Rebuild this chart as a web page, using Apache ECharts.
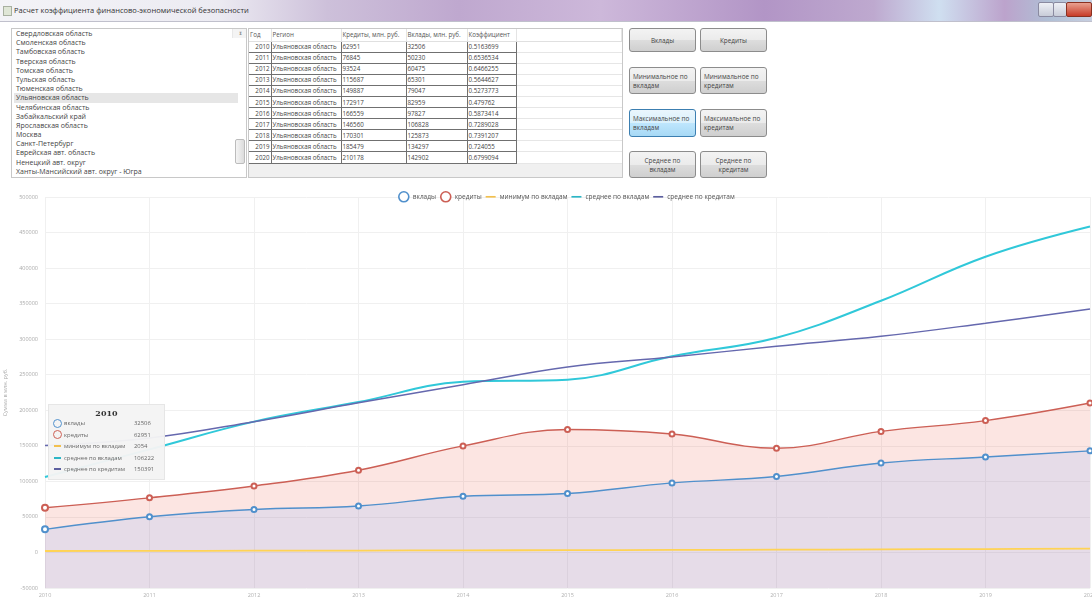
<!DOCTYPE html>
<html>
<head>
<meta charset="utf-8">
<script src="https://cdn.jsdelivr.net/npm/echarts@6/dist/echarts.min.js"></script>
<style>
body{margin:0;width:1092px;height:597px;overflow:hidden;background:#fff;position:relative;font-family:"Open Sans","Noto Sans",sans-serif;color:#333}
.titlebar{position:absolute;left:0;top:0;width:1092px;height:21px;
 background:linear-gradient(90deg,#f3f3f7 0%,#ecebf2 20%,#cdc0da 30%,#bfa8cf 42%,#cdb8da 55%,#b295c6 70%,#bea9cf 80%,#cfdff0 86%,#bca3cc 92%,#b0bfd5 96%,#c7cfe0 100%);
 border-bottom:1px solid #c0c0cc}
.titlebar .ico{position:absolute;left:3px;top:6px;width:7px;height:8px;background:#dfe6d6;border:1px solid #a8b0a0}
.titlebar .txt{position:absolute;left:14px;top:5px;font-size:7.5px;color:#333}
.winbtn{position:absolute;top:2px;height:13px;border:1px solid #8a8aa0;border-radius:2px;background:linear-gradient(#eef0f6,#c8ccd8)}
.winbtn.close{background:linear-gradient(#e8a090,#c83c28);border-color:#8a3020}
.list{position:absolute;left:11px;top:28px;width:236px;height:150px;border:1px solid #c8c8c8;box-sizing:border-box;background:#fff;overflow:hidden}
.list div{font-size:7px;line-height:9.2px;height:9.2px;padding-left:2px;white-space:nowrap;color:#444}
.list .sel{background:#e6e6e6}
.list .items{position:absolute;left:0;top:0;width:224px}
.sb{position:absolute;right:0;top:0;width:11px;height:148px;background:#f4f4f4;border-left:1px solid #e8e8e8}
.sb .ar{position:absolute;left:0;width:11px;height:10px;font-size:4px;color:#999;text-align:center;line-height:10px}
.sb .th{position:absolute;left:2px;top:110px;width:6px;height:23px;background:linear-gradient(90deg,#f4f4f4,#dcdcdc);border:1px solid #bcbcbc;border-radius:2px}
.grid{position:absolute;left:248px;top:28px;width:375px;height:150px;border:1px solid #c8c8c8;box-sizing:border-box;background:#f0f0f0;overflow:hidden}
.grid table{border-collapse:collapse;font-size:6.2px;background:#fff;width:373px;table-layout:fixed}
.grid tr{height:11.1px}
.grid td{padding:0 1px;border-bottom:1.4px solid #707070;border-right:1px solid #707070;white-space:nowrap;overflow:hidden;color:#444}
.grid tr.h{height:12px}
.grid tr.h td{border-bottom:1px solid #e0e0e0;border-right:1px solid #e4e4e4;color:#555}
.grid td.e{border-right:none;border-bottom:1px solid #e6e6e6}
.grid td.y{text-align:right}
.btn{position:absolute;width:67px;box-sizing:border-box;border:1px solid #8c8c8c;border-radius:3px;
 background:linear-gradient(#f3f3f3 0%,#ebebeb 50%,#dddddd 51%,#cfcfcf 100%);font-size:6.4px;color:#444;
 display:flex;align-items:center;padding:0 3px;line-height:9px;white-space:nowrap}
.btn.c{justify-content:center;text-align:center}
.btn.hl{background:linear-gradient(#eaf6fd 0%,#d9f0fc 50%,#bee6fd 51%,#a7d9f5 100%);border-color:#3c7fb1}
#chart{position:absolute;left:0;top:183px;width:1092px;height:414px}
</style>
</head>
<body>
<div class="titlebar"><div class="ico"></div><div class="txt">Расчет коэффициента финансово-экономической безопасности</div>
 <div class="winbtn" style="left:1038px;width:14px"></div><div class="winbtn" style="left:1053px;width:12px"></div><div class="winbtn close" style="left:1066px;width:24px"></div></div>
<div class="list"><div class="items" id="items"></div>
 <div class="sb"><div class="ar" style="top:0">&#9650;</div><div class="th"></div><div class="ar" style="bottom:0">&#9660;</div></div></div>
<div class="grid"><table id="tbl"></table></div>
<div class="btn c" style="left:629px;top:28px;height:24px">Вклады</div>
<div class="btn c" style="left:700px;top:28px;height:24px">Кредиты</div>
<div class="btn" style="left:629px;top:67px;height:27px">Минимальное по<br>вкладам</div>
<div class="btn" style="left:700px;top:67px;height:27px">Минимальное по<br>кредитам</div>
<div class="btn hl" style="left:629px;top:109px;height:28px">Максимальное по<br>вкладам</div>
<div class="btn" style="left:700px;top:109px;height:28px">Максимальное по<br>кредитам</div>
<div class="btn c" style="left:629px;top:151px;height:27px">Среднее по<br>вкладам</div>
<div class="btn c" style="left:700px;top:151px;height:27px">Среднее по<br>кредитам</div>
<div id="chart"></div>
<script>
// список регионов
var regions = ['Свердловская область','Смоленская область','Тамбовская область','Тверская область','Томская область',
  'Тульская область','Тюменская область','Ульяновская область','Челябинская область','Забайкальский край',
  'Ярославская область','Москва','Санкт-Петербург','Еврейская авт. область','Ненецкий авт. округ',
  'Ханты-Мансийский авт. округ - Югра'];
var selRegion = 'Ульяновская область';
var columns = ['Год','Регион','Кредиты, млн. руб.','Вклады, млн. руб.','Коэффициент'];
var colWidths = [22, 70, 65, 61, 49];
var years = ['2010','2011','2012','2013','2014','2015','2016','2017','2018','2019','2020'];
var kredity = [62951,76845,93524,115687,149887,172917,166559,146560,170301,185479,210178];
var vklady = [32506,50230,60475,65301,79047,82959,97827,106828,125873,134297,142902];
var koef = ['0.5163699','0.6536534','0.6466255','0.5644627','0.5273773','0.479762','0.5873414','0.7289028','0.7391207','0.724055','0.6799094'];
var minVklady = [2054,2250,2450,2700,2950,3200,3550,3900,4350,4800,5300];
var srVklady = [106222,145000,184000,211500,240000,243000,276000,302000,354000,416000,458500];
var srKredity = [150391,161000,184000,210500,236000,261000,275000,290000,304000,322500,342500];
var seriesNames = ['вклады','кредиты','минимум по вкладам','среднее по вкладам','среднее по кредитам'];
var colors = ['#5090cc','#cc5f55','#f2c04e','#2cb6c6','#5c5f9f'];

// левый список
var h = '';
regions.forEach(function(r){ h += '<div' + (r == selRegion ? ' class="sel"' : '') + '>' + r + '</div>'; });
document.getElementById('items').innerHTML = h;

// таблица
var t = '<colgroup>';
colWidths.forEach(function(w){ t += '<col style="width:' + w + 'px">'; });
t += '<col></colgroup><tr class="h">';
columns.forEach(function(c){ t += '<td>' + c + '</td>'; });
t += '<td class="e"></td></tr>';
years.forEach(function(y, i){
  t += '<tr><td class="y">' + y + '</td><td>' + selRegion + '</td><td>' + kredity[i] + '</td><td>' + vklady[i] +
       '</td><td>' + koef[i] + '</td><td class="e"></td></tr>';
});
document.getElementById('tbl').innerHTML = t;

var myChart = echarts.init(document.getElementById('chart'));
var dash = 'path://M0,0 L12,0 L12,2 L0,2 Z';
var option = {
  animation: false,
  color: colors,
  textStyle: {fontFamily: 'Open Sans'},
  legend: {
    top: 3, left: 393, itemGap: 4, itemWidth: 10, itemHeight: 10,
    textStyle: {fontSize: 6.5, color: '#555', padding: [0, 0, 0, -1]},
    data: [
      {name: seriesNames[0], icon: 'circle', itemStyle: {color: '#fff', borderColor: colors[0], borderWidth: 1.6}},
      {name: seriesNames[1], icon: 'circle', itemStyle: {color: '#fff', borderColor: colors[1], borderWidth: 1.6}},
      {name: seriesNames[2], icon: dash},
      {name: seriesNames[3], icon: dash},
      {name: seriesNames[4], icon: dash}
    ]
  },
  grid: {left: 45, right: 2, top: 14, bottom: 9, outerBoundsMode: 'none'},
  tooltip: {
    trigger: 'axis',
    triggerOn: 'none',
    alwaysShowContent: true,
    transitionDuration: 0,
    position: [48, 221],
    padding: [3, 4],
    backgroundColor: 'rgba(244,244,244,0.96)',
    borderColor: '#e6e6e6',
    borderWidth: 1,
    extraCssText: 'box-shadow:none;border-radius:0;width:107px;',
    axisPointer: {type: 'none'},
    formatter: function(params){
      var s = '<div style="font:bold 8px \'DejaVu Serif\',serif;color:#333;text-align:center;margin-bottom:0">' + params[0].axisValue + '</div>';
      params.forEach(function(p){
        var ic = p.seriesIndex < 2
          ? '<span style="display:inline-block;box-sizing:border-box;width:9px;height:9px;border:1.5px solid ' + p.color + ';border-radius:50%;margin-right:2px;vertical-align:middle"></span>'
          : '<span style="display:inline-block;width:7px;height:2px;background:' + p.color + ';margin:0 3px 0 1px;vertical-align:middle"></span>';
        s += '<div style="font-size:5.9px;color:#666;line-height:11.5px;white-space:nowrap">' + ic +
             '<span style="display:inline-block;width:70px">' + p.seriesName + '</span>' + p.value + '</div>';
      });
      return s;
    }
  },
  xAxis: {
    type: 'category', boundaryGap: false, data: years,
    axisLine: {show: false}, axisTick: {show: false},
    axisLabel: {fontSize: 5.5, color: '#b0b0b0', margin: 4},
    splitLine: {show: true, lineStyle: {color: '#f0f0f0'}}
  },
  yAxis: {
    type: 'value', min: -50000, max: 500000, interval: 50000,
    name: 'Сумма в млн. руб.', nameLocation: 'middle', nameGap: 28, nameRotate: 90,
    nameTextStyle: {fontSize: 5.5, color: '#aaa'},
    axisLabel: {fontSize: 5.5, color: '#aaa', margin: 7, formatter: function(v){ return String(v); }},
    splitLine: {lineStyle: {color: '#f0f0f0'}}
  },
  series: [
    {name: seriesNames[0], type: 'line', smooth: 0.4, data: vklady, z: 4,
     symbol: 'emptyCircle', symbolSize: 5, lineStyle: {width: 1.4},
     itemStyle: {borderWidth: 1}, emphasis: {disabled: true},
     areaStyle: {origin: 'start', color: 'rgba(150,190,250,0.32)'}},
    {name: seriesNames[1], type: 'line', smooth: 0.4, data: kredity, z: 3,
     symbol: 'emptyCircle', symbolSize: 5, lineStyle: {width: 1.4},
     itemStyle: {borderWidth: 1}, emphasis: {disabled: true},
     areaStyle: {origin: 'start', color: 'rgba(240,110,95,0.26)'}},
    {name: seriesNames[2], type: 'line', smooth: 0.4, data: minVklady, symbol: 'none', lineStyle: {width: 1.8}, z: 5},
    {name: seriesNames[3], type: 'line', smooth: 0.4, data: srVklady, symbol: 'none', lineStyle: {width: 2}, z: 5},
    {name: seriesNames[4], type: 'line', smooth: 0.4, data: srKredity, symbol: 'none', lineStyle: {width: 1.5}, z: 5}
  ]
};
myChart.setOption(option);
myChart.dispatchAction({type: 'showTip', seriesIndex: 0, dataIndex: 0});
window.addEventListener('resize', function(){ myChart.resize(); });
</script>
</body>
</html>
